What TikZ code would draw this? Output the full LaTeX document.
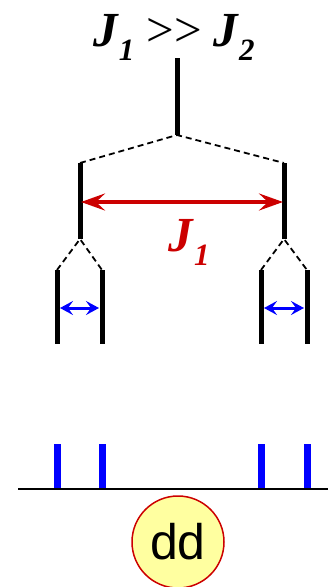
\documentclass[tikz,border=0pt]{standalone}
\usepackage{fontspec}
\setmainfont{Liberation Serif}
\newfontfamily\ddfont{Liberation Sans}
\usetikzlibrary{arrows.meta}
\definecolor{jred}{RGB}{204,0,0}
\definecolor{ddyellow}{RGB}{255,255,160}
\newcommand{\Jsub}[1]{{\bfseries\itshape J\hspace{1pt}\raisebox{-14pt}{\fontsize{31}{31}\selectfont #1}}}
\begin{document}
\begin{tikzpicture}[x=1pt,y=-1pt,
  bar/.style={line width=5pt},
  dashline/.style={line width=1.8pt, dash pattern=on 6pt off 4pt},
  bluebar/.style={blue, line width=7pt},
  redarrow/.style={jred, line width=3.5pt, {Stealth[length=24pt,width=17pt,inset=9pt]}-{Stealth[length=24pt,width=17pt,inset=9pt]}, shorten <=-1pt, shorten >=-1pt},
  bluearrow/.style={blue, line width=3pt, {Stealth[length=13pt,width=14pt,inset=5pt]}-{Stealth[length=13pt,width=14pt,inset=5pt]}}
]
\useasboundingbox (0,0) rectangle (328,587);
% title
\node[inner sep=0pt, anchor=base, font=\fontsize{49}{49}\selectfont] (title) at (174,46) {\Jsub{1}\hspace{12pt}{>}{>}\hspace{12pt}\Jsub{2}};
% top bar
\coordinate (t1) at (177,58); \coordinate (t2) at (177,135);
\draw[bar] (t1) -- (t2);
% middle bars
\coordinate (l1) at (80,163); \coordinate (l2) at (80,239);
\coordinate (r1) at (284,163); \coordinate (r2) at (284,239);
\draw[bar] (l1) -- (l2);
\draw[bar] (r1) -- (r2);
\draw[dashline] (l1) -- (t2) -- (r1);
% red arrow and label
\coordinate (ra) at (82,202); \coordinate (rb) at (282,202);
\draw[redarrow] (ra) -- (rb);
\node[inner sep=0pt, anchor=base, jred, font=\fontsize{49}{49}\selectfont] (j1) at (189,251) {\Jsub{1}};
% lower bars
\coordinate (a1) at (57,270); \coordinate (a2) at (57,344);
\coordinate (b1) at (102,270); \coordinate (b2) at (102,344);
\coordinate (c1) at (261,270); \coordinate (c2) at (261,344);
\coordinate (d1) at (307,270); \coordinate (d2) at (307,344);
\foreach \p in {a,b,c,d} {\draw[bar] (\p1) -- (\p2);}
\draw[dashline] (a1) -- (l2) -- (b1);
\draw[dashline] (c1) -- (r2) -- (d1);
% blue arrows
\coordinate (ba1) at (60,308); \coordinate (ba2) at (99,308);
\coordinate (bb1) at (264,308); \coordinate (bb2) at (304,308);
\draw[bluearrow] (ba1) -- (ba2);
\draw[bluearrow] (bb1) -- (bb2);
% spectrum
\coordinate (ax1) at (18,489); \coordinate (ax2) at (328,489);
\foreach \x in {57,102,261,307} {\draw[bluebar] (\x,444) -- (\x,489);}
\draw[line width=1.5pt] (ax1) -- (ax2);
% dd circle
\node[circle, draw=jred, line width=1.5pt, fill=ddyellow, minimum size=92pt, inner sep=0pt, font=\ddfont\fontsize{50}{50}\selectfont] (dd) at (178,542) {dd};
\end{tikzpicture}
\end{document}
